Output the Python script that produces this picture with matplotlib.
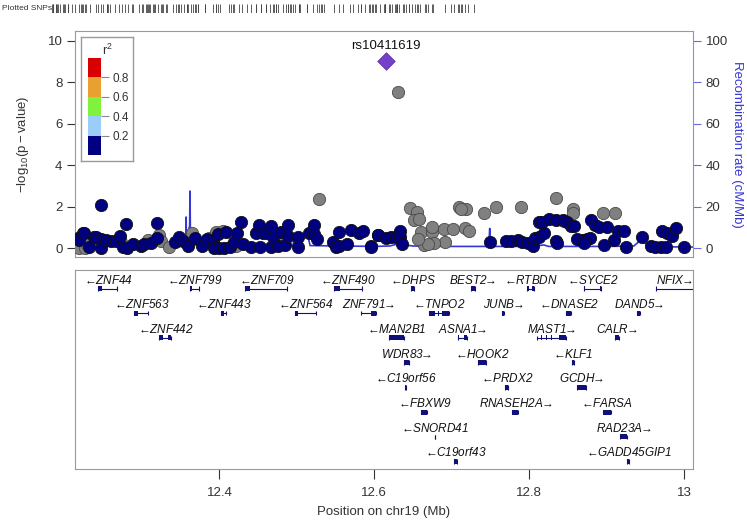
import numpy as np
import matplotlib
matplotlib.use("Agg")
import matplotlib.pyplot as plt
from matplotlib.patches import Rectangle

plt.rcParams['font.family'] = ['Liberation Sans', 'DejaVu Sans']
plt.rcParams['mathtext.fontset'] = 'custom'
plt.rcParams['mathtext.rm'] = 'Liberation Sans'
plt.rcParams['mathtext.it'] = 'Liberation Sans:italic'

# ---------------- data ----------------
# SNPs with r2 < 0.2 (navy)
navy_pos = [12.218, 12.219, 12.224, 12.225, 12.232, 12.238, 12.241, 12.247, 12.247, 12.247,
            12.254, 12.260, 12.267, 12.271, 12.275, 12.279, 12.281, 12.288, 12.299, 12.303,
            12.312, 12.319, 12.320, 12.342, 12.348, 12.353, 12.359, 12.368, 12.378, 12.384,
            12.392, 12.393, 12.398, 12.400, 12.406, 12.408, 12.413, 12.419, 12.423, 12.428,
            12.431, 12.441, 12.447, 12.451, 12.453, 12.456, 12.462, 12.467, 12.467, 12.469,
            12.475, 12.479, 12.485, 12.488, 12.488, 12.502, 12.502, 12.516, 12.522, 12.522,
            12.526, 12.546, 12.550, 12.554, 12.555, 12.565, 12.570, 12.580, 12.586, 12.596,
            12.5955, 12.605, 12.605, 12.615, 12.621, 12.628, 12.633, 12.633, 12.636,
            12.750, 12.770, 12.776, 12.785, 12.791, 12.798, 12.805, 12.808, 12.813, 12.819,
            12.812, 12.817, 12.825, 12.835, 12.843, 12.849, 12.854, 12.858, 12.834, 12.836,
            12.862, 12.869, 12.875, 12.879, 12.871, 12.880, 12.885, 12.890, 12.901, 12.897,
            12.910, 12.915, 12.923, 12.925, 12.946, 12.957, 12.963, 12.970, 12.976, 12.972,
            12.978, 12.984, 12.989, 13.000]
navy_logp = [0.48, 0.39, 0.74, 0.74, 0.03, 0.55, 0.55, 2.10, 0.42, 0.00,
             0.39, 0.35, 0.35, 0.58, 0.03, 1.16, 0.00, 0.19, 0.10, 0.19,
             0.26, 1.23, 0.47, 0.31, 0.55, 0.35, 0.10, 0.47, 0.10, 0.42,
             0.39, 0.00, 0.68, 0.00, 0.00, 0.79, 0.03, 0.31, 0.71, 1.27,
             0.19, 0.03, 0.74, 1.11, 0.03, 0.71, 0.71, 1.06, 0.03, 0.55,
             0.10, 0.79, 0.15, 0.58, 1.11, 0.55, 0.03, 0.71, 0.68, 1.11,
             0.44, 0.31, 0.03, 0.77, 0.10, 0.19, 0.87, 0.71, 0.84, 0.10,
             0.06, 0.61, 0.61, 0.47, 0.55, 0.55, 0.84, 0.55, 0.19,
             0.31, 0.34, 0.34, 0.39, 0.31, 0.26, 0.10, 0.47, 0.55, 0.71,
             1.27, 1.27, 1.39, 1.35, 1.35, 1.27, 1.06, 1.06, 0.35, 0.26,
             0.42, 0.39, 0.42, 0.47, 0.26, 1.35, 1.11, 1.00, 1.00, 0.15,
             0.39, 0.84, 0.84, 0.06, 0.52, 0.10, 0.03, 0.03, 0.06, 0.84,
             0.71, 0.58, 0.95, 0.06]

# SNPs without LD information (grey)
gray_pos = [12.219, 12.226, 12.229, 12.240, 12.273, 12.308, 12.322, 12.324, 12.335, 12.365,
            12.387, 12.396, 12.404, 12.421, 12.482, 12.529,
            12.630, 12.646, 12.655, 12.651, 12.658, 12.660, 12.675, 12.675, 12.690, 12.701,
            12.691, 12.677, 12.664, 12.669, 12.656, 12.709, 12.718, 12.712, 12.717, 12.722,
            12.741, 12.757, 12.790, 12.835, 12.856, 12.857, 12.895, 12.911, 12.845]
gray_logp = [0.00, 0.00, 0.20, 0.50, 0.31, 0.39, 0.63, 0.35, 0.06, 0.71,
             0.47, 0.79, 0.84, 0.10, 0.47, 2.35,
             7.55, 1.92, 1.76, 1.35, 1.39, 0.79, 0.79, 1.00, 0.90, 0.90,
             0.31, 0.23, 0.15, 0.19, 0.42, 1.97, 1.89, 1.87, 0.95, 0.84,
             1.68, 1.97, 1.97, 2.40, 1.89, 1.71, 1.68, 1.68, 1.30]

lead_name = "rs10411619"
lead_pos = 12.615
lead_logp = 9.0

# recombination rate (cM/Mb)
recomb_pos = [12.214, 12.250, 12.262, 12.280, 12.300, 12.330, 12.355, 12.3565, 12.357, 12.3575,
              12.359, 12.3605, 12.361, 12.3615, 12.362, 12.3625, 12.363, 12.366, 12.400, 12.450,
              12.495, 12.497, 12.514, 12.517, 12.560, 12.600, 12.620, 12.630, 12.650, 12.700,
              12.745, 12.748, 12.749, 12.750, 12.753, 12.800, 12.819, 12.825, 12.900, 12.935,
              12.944, 12.955, 12.980, 13.012]
recomb_rate = [0.8, 0.8, 1.5, 1.2, 1.0, 1.8, 1.5, 1.5, 15.0, 1.5,
               6.0, 6.0, 10.0, 10.0, 27.5, 8.0, 3.0, 1.5, 1.5, 1.0,
               1.2, 6.5, 6.5, 1.2, 1.0, 0.8, 1.0, 2.0, 1.0, 0.8,
               0.8, 2.0, 9.5, 2.0, 0.8, 0.8, 1.5, 0.8, 0.8, 1.0,
               3.8, 1.0, 0.6, 0.5]

# r2 legend bins
r2_bins = [0.0, 0.2, 0.4, 0.6, 0.8, 1.0]
r2_colors = ['#000080', '#9ACEF8', '#80F23C', '#E8A030', '#D80000']

# genes
gene_name = ['ZNF44', 'ZNF799', 'ZNF709', 'ZNF490', 'DHPS', 'BEST2', 'RTBDN', 'SYCE2', 'NFIX',
             'ZNF563', 'ZNF443', 'ZNF564', 'ZNF791', 'TNPO2', 'JUNB', 'DNASE2', 'DAND5',
             'ZNF442', 'MAN2B1', 'ASNA1', 'MAST1', 'CALR',
             'WDR83', 'HOOK2', 'KLF1',
             'C19orf56', 'PRDX2', 'GCDH',
             'FBXW9', 'RNASEH2A', 'FARSA',
             'SNORD41', 'RAD23A',
             'C19orf43', 'GADD45GIP1']
gene_start = [12.2436, 12.3623, 12.4333, 12.5481, 12.6471, 12.7245, 12.7977, 12.8708, 12.9632,
              12.2901, 12.4020, 12.4974, 12.5826, 12.6708, 12.7654, 12.8471, 12.9396,
              12.3224, 12.6192, 12.7086, 12.8097, 12.9108,
              12.6385, 12.7340, 12.8557,
              12.6398, 12.7684, 12.8622,
              12.6600, 12.7783, 12.8953,
              12.6778, 12.9172,
              12.7030, 12.9267]
gene_end = [12.2678, 12.3739, 12.4871, 12.5835, 12.6506, 12.7297, 12.8063, 12.8923, 13.0127,
            12.3074, 12.4085, 12.5245, 12.6020, 12.6966, 12.7675, 12.8536, 12.9430,
            12.3374, 12.6385, 12.7202, 12.8471, 12.9160,
            12.6450, 12.7439, 12.8579,
            12.6415, 12.7727, 12.8730,
            12.6686, 12.7856, 12.9052,
            12.6782, 12.9267,
            12.7073, 12.9289]
gene_strand = ['-', '-', '-', '-', '-', '+', '-', '-', '+',
               '-', '-', '-', '+', '-', '+', '-', '+',
               '-', '-', '+', '+', '+',
               '+', '-', '-',
               '-', '-', '+',
               '-', '+', '-',
               '-', '+',
               '-', '-']
gene_row = [0, 0, 0, 0, 0, 0, 0, 0, 0,
            1, 1, 1, 1, 1, 1, 1, 1,
            2, 2, 2, 2, 2,
            3, 3, 3,
            4, 4, 4,
            5, 5, 5,
            6, 6,
            7, 7]
gene_exons = {
    'ZNF44': [(12.2436, 12.2478)], 'ZNF799': [(12.3623, 12.3650)],
    'ZNF709': [(12.4333, 12.4400), (12.4560, 12.4566)], 'ZNF490': [(12.5481, 12.5560)],
    'RTBDN': [(12.7977, 12.7992), (12.8040, 12.8063)],
    'SYCE2': [(12.8708, 12.8716), (12.8770, 12.8778), (12.8915, 12.8923)],
    'NFIX': [(12.9632, 12.9638), (12.9880, 12.9887)],
    'ZNF563': [(12.2901, 12.2945)], 'ZNF443': [(12.4020, 12.4060)], 'ZNF564': [(12.4974, 12.5015)],
    'ZNF791': [(12.5826, 12.5830), (12.5960, 12.6020)],
    'TNPO2': [(12.6708, 12.6780), (12.6820, 12.6840), (12.6870, 12.6966)],
    'ZNF442': [(12.3224, 12.3268), (12.3340, 12.3374)],
    'ASNA1': [(12.7086, 12.7092), (12.7160, 12.7202)],
    'MAST1': [(12.8097, 12.8105), (12.8150, 12.8160), (12.8220, 12.8230), (12.8280, 12.8290),
              (12.8380, 12.8471)],
}

x_ticks = [12.4, 12.6, 12.8, 13.0]
x_ticklabels = ['12.4', '12.6', '12.8', '13']
xlim = (12.2135, 13.0115)

# ---------------- figure ----------------
W, H = 747, 520
fig = plt.figure(figsize=(W / 100, H / 100), dpi=100)

def px_axes(l, t, r, b):
    return fig.add_axes([l / W, 1 - b / H, (r - l) / W, (b - t) / H])

frame_col = '#9a9a9a'
txt_col = '#333333'
blue = '#3535D8'

# main association axes
ax = px_axes(75, 31, 693, 257)
ax2 = ax.twinx()
ylim = (-0.43, 10.47)
ax.set_xlim(*xlim)
ax.set_ylim(*ylim)
ax2.set_ylim(ylim[0] * 10, ylim[1] * 10)
ax.set_zorder(ax2.get_zorder() + 1)
ax.patch.set_visible(False)

ax2.plot(recomb_pos, recomb_rate, color=blue, lw=1.2, zorder=1)

ax.scatter(gray_pos, gray_logp, s=78, c='#808080', edgecolors='#4a4a4a', linewidths=0.6, zorder=3)
ax.scatter(navy_pos, navy_logp, s=78, c=r2_colors[0], edgecolors='#111111', linewidths=0.6, zorder=4)
ax.scatter([lead_pos], [lead_logp], s=80, marker='D', c='#7440C8', edgecolors='#5a2aa8',
           linewidths=0.5, zorder=5)
ax.annotate(lead_name, (lead_pos, lead_logp), xytext=(0, 7), textcoords='offset points',
            ha='center', va='bottom', fontsize=9.5, color='#111111')

ax.set_xticks([])
ax.set_yticks([0, 2, 4, 6, 8, 10])
ax.tick_params(axis='y', colors=txt_col, labelsize=9.5, length=6, width=0.8, pad=3)
ax.set_ylabel(r'$-\mathrm{log}_{10}\mathrm{(p-value)}$', fontsize=9.5, color=txt_col, labelpad=12)
for s in ['left', 'bottom', 'top']:
    ax.spines[s].set_color(frame_col)
ax.spines['right'].set_visible(False)
for s in ['left', 'bottom', 'top']:
    ax2.spines[s].set_visible(False)
ax2.spines['right'].set_color('#8c8ce6')
ax2.set_yticks([0, 20, 40, 60, 80, 100])
ax2.tick_params(axis='y', colors='#6a6ae0', labelcolor=txt_col, labelsize=9.5, length=6, width=0.8, pad=3)
ax2.set_ylabel('Recombination rate (cM/Mb)', fontsize=9.5, color=blue, rotation=270, labelpad=11)
ax2.set_xticks([])

# legend box
lg = px_axes(81, 37, 133, 161)
lg.set_xticks([]); lg.set_yticks([])
for s in lg.spines.values():
    s.set_color(frame_col)
    s.set_linewidth(1.0)
lg.text(0.5, 0.895, r'r$^2$', transform=lg.transAxes, ha='center', va='center', fontsize=9, color=txt_col)

cb = px_axes(88, 58, 101, 155)
for i in range(len(r2_colors)):
    cb.add_patch(Rectangle((0, r2_bins[i]), 1, r2_bins[i + 1] - r2_bins[i], facecolor=r2_colors[i],
                           edgecolor='none'))
cb.set_xlim(0, 1)
cb.set_ylim(0, 1)
cb.set_xticks([])
cb.yaxis.tick_right()
cb.set_yticks(r2_bins[1:-1])
cb.set_yticklabels(['%.1f' % v for v in r2_bins[1:-1]])
cb.tick_params(axis='y', colors='#888888', labelcolor=txt_col, labelsize=8.5, length=6, width=0.8, pad=2)
for s in cb.spines.values():
    s.set_visible(False)

# plotted SNPs rug
rug = px_axes(50, 4, 480, 13)
all_pos = sorted(navy_pos + gray_pos + [lead_pos])
rug.vlines(all_pos, 0, 1, color='#444444', lw=0.6)
rug.set_xlim(*xlim)
rug.set_ylim(0, 1)
rug.axis('off')
fig.text(2 / W, 1 - 9 / H, 'Plotted SNPs', fontsize=6.0, color=txt_col, ha='left', va='center')

# gene panel
gx = px_axes(75, 270, 693, 469)
gx.set_xlim(*xlim)
gx.set_ylim(469, 270)
row0_label = 280.0
row_step = 24.7
bar_off = 8.5
gene_col = '#10107a'
for name, st, en, strand, row in zip(gene_name, gene_start, gene_end, gene_strand, gene_row):
    ly = row0_label + row * row_step
    by = ly + bar_off
    gx.plot([st, en], [by, by], color=gene_col, lw=0.8, solid_capstyle='butt')
    gx.vlines([st, en], by - 2.2, by + 2.2, color=gene_col, lw=0.8)
    for es, ee in gene_exons.get(name, [(st, en)]):
        ee = max(ee, es + 0.0008)
        gx.add_patch(Rectangle((es, by - 2.5), ee - es, 5.0, facecolor=gene_col, edgecolor='none'))
    label = (r'$\leftarrow\!\!$' + name) if strand == '-' else (name + r'$\!\!\rightarrow$')
    cx = min((st + en) / 2, xlim[1])
    gx.text(cx, ly, label, ha='center', va='center', fontsize=8.5, style='italic', color='#111111')
gx.set_yticks([])
gx.set_xticks(x_ticks)
gx.set_xticklabels(x_ticklabels)
gx.tick_params(axis='x', colors=txt_col, labelsize=9.5, length=7, width=0.8, pad=6)
for s in gx.spines.values():
    s.set_color(frame_col)
gx.set_xlabel('Position on chr19 (Mb)', fontsize=9.5, color=txt_col, labelpad=5)

fig.savefig('out.png', dpi=100)
